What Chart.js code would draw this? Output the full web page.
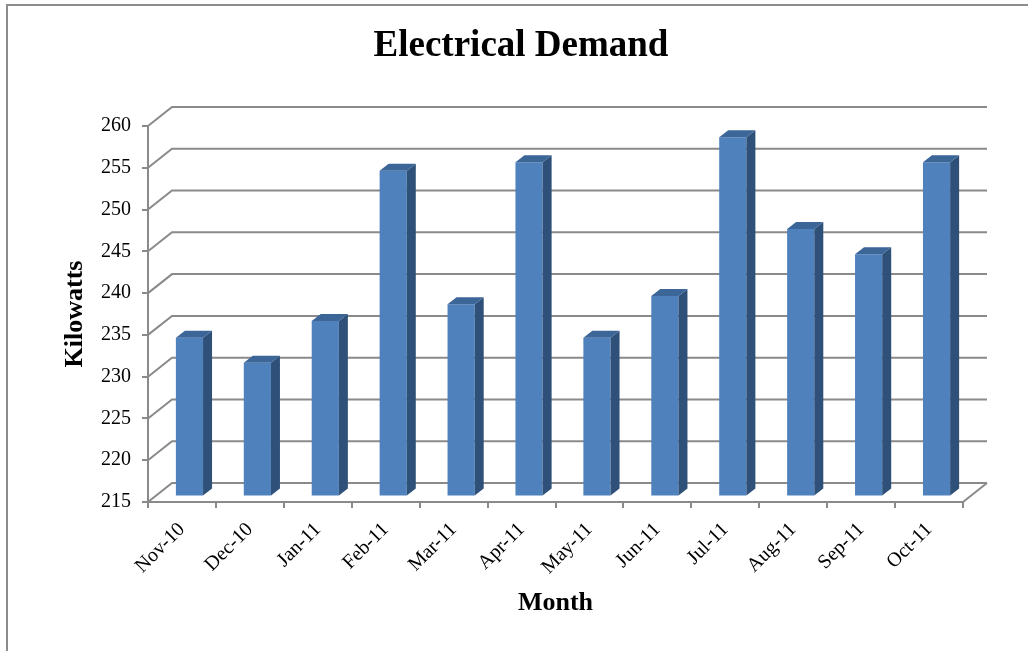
<!DOCTYPE html>
<html>
<head>
<meta charset="utf-8">
<script src="https://cdn.jsdelivr.net/npm/chart.js@4.4.0/dist/chart.umd.min.js"></script>
<style>
  html, body { margin: 0; padding: 0; background: #fff; }
  canvas { display: block; }
</style>
</head>
<body>
<canvas id="chart" width="1028" height="651"></canvas>
<script>
// chart data
let months = ['Nov-10', 'Dec-10', 'Jan-11', 'Feb-11', 'Mar-11', 'Apr-11', 'May-11', 'Jun-11', 'Jul-11', 'Aug-11', 'Sep-11', 'Oct-11'];
let kilowatts = [234, 231, 236, 254, 238, 255, 234, 239, 258, 247, 244, 255];
let yMin = 215;
let yMax = 260;
let yStep = 5;

// look of the fake 3d box
let wallDx = 24, wallDy = -19;   // back wall offset from the front plane
let barDx = 7.5, barDy = -5.5;   // bars sit a little way into the box
let sideDx = 9, sideDy = -7;     // depth of each bar
let gridColor = '#8a8a8a';
let frontColor = '#4f81bd';
let sideColor = '#2f5179';
let topColor = '#3c6598';
let serif = "'Liberation Serif', 'Times New Roman', serif";

let box3d = {
    id: 'box3d',
    beforeDraw(chart) {
        // outer frame, only top and left edges show in the picture
        let ctx = chart.ctx;
        ctx.save();
        ctx.strokeStyle = '#8c8c8c';
        ctx.lineWidth = 2;
        ctx.beginPath();
        ctx.moveTo(7, chart.height);
        ctx.lineTo(7, 5);
        ctx.lineTo(chart.width, 5);
        ctx.stroke();
        ctx.restore();
    },
    beforeDatasetsDraw(chart) {
        let {ctx, chartArea: a, scales: {y}} = chart;
        ctx.save();
        ctx.strokeStyle = gridColor;
        ctx.lineWidth = 2;
        ctx.beginPath();
        // side wall diagonals + back wall gridlines
        y.ticks.forEach(t => {
            let py = y.getPixelForValue(t.value);
            ctx.moveTo(a.left, py);
            ctx.lineTo(a.left + wallDx, py + wallDy);
            ctx.lineTo(a.right + wallDx, py + wallDy);
        });
        // right edge of the floor
        ctx.moveTo(a.right, a.bottom);
        ctx.lineTo(a.right + wallDx, a.bottom + wallDy);
        ctx.stroke();
        ctx.restore();
        // push the bar fronts back into the box
        ctx.save();
        ctx.translate(barDx, barDy);
    },
    afterDatasetsDraw(chart) {
        let ctx = chart.ctx;
        chart.getDatasetMeta(0).data.forEach(bar => {
            let {x, y, base, width} = bar.getProps(['x', 'y', 'base', 'width'], true);
            let left = x - width / 2, right = x + width / 2;
            // side face
            ctx.fillStyle = sideColor;
            ctx.beginPath();
            ctx.moveTo(right, y);
            ctx.lineTo(right + sideDx, y + sideDy);
            ctx.lineTo(right + sideDx, base + sideDy);
            ctx.lineTo(right, base);
            ctx.closePath();
            ctx.fill();
            // top face
            ctx.fillStyle = topColor;
            ctx.beginPath();
            ctx.moveTo(left, y);
            ctx.lineTo(left + sideDx, y + sideDy);
            ctx.lineTo(right + sideDx, y + sideDy);
            ctx.lineTo(right, y);
            ctx.closePath();
            ctx.fill();
        });
        ctx.restore();
    }
};

new Chart(document.getElementById('chart'), {
    type: 'bar',
    data: {
        labels: months,
        datasets: [{
            data: kilowatts,
            base: yMin,
            backgroundColor: frontColor,
            barPercentage: 0.4,
            categoryPercentage: 1,
            clip: false
        }]
    },
    options: {
        responsive: false,
        animation: false,
        layout: { padding: { left: 14, right: 0, top: 0, bottom: 0 } },
        plugins: {
            legend: { display: false },
            tooltip: { enabled: false },
            title: {
                display: true,
                text: 'Electrical Demand',
                color: '#000',
                font: { family: serif, size: 37, weight: 'bold', lineHeight: 1.2 },
                padding: { top: 23.8, bottom: 57.8 }
            }
        },
        scales: {
            x: {
                grid: { offset: true, drawOnChartArea: false, tickLength: 6, color: gridColor, lineWidth: 2 },
                border: { display: true, color: gridColor, width: 2 },
                ticks: {
                    autoSkip: false, minRotation: 45, maxRotation: 45, padding: 10,
                    color: '#000', font: { family: serif, size: 20 }
                },
                title: {
                    display: true, text: 'Month', color: '#000',
                    font: { family: serif, size: 26, weight: 'bold', lineHeight: 1.2 },
                    padding: { top: 4, bottom: 32 }
                },
                afterFit(scale) { scale.height = 149; }
            },
            y: {
                min: yMin,
                max: yMax,
                grid: { drawOnChartArea: false, tickLength: 6, color: gridColor, lineWidth: 2 },
                border: { display: true, color: gridColor, width: 2 },
                ticks: {
                    stepSize: yStep, padding: 11,
                    color: '#000', font: { family: serif, size: 20 }
                },
                title: {
                    display: true, text: 'Kilowatts', color: '#000',
                    font: { family: serif, size: 26, weight: 'bold', lineHeight: 1.2 },
                    padding: { top: 46, bottom: 4 }
                },
                afterFit(scale) { scale.width = 134; }
            },
            // empty right axis, only reserves the margin right of the box
            yRight: {
                position: 'right',
                display: true,
                grid: { display: false },
                border: { display: false },
                ticks: { display: false },
                afterFit(scale) { scale.width = 65; }
            }
        }
    },
    plugins: [box3d]
});
</script>
</body>
</html>
